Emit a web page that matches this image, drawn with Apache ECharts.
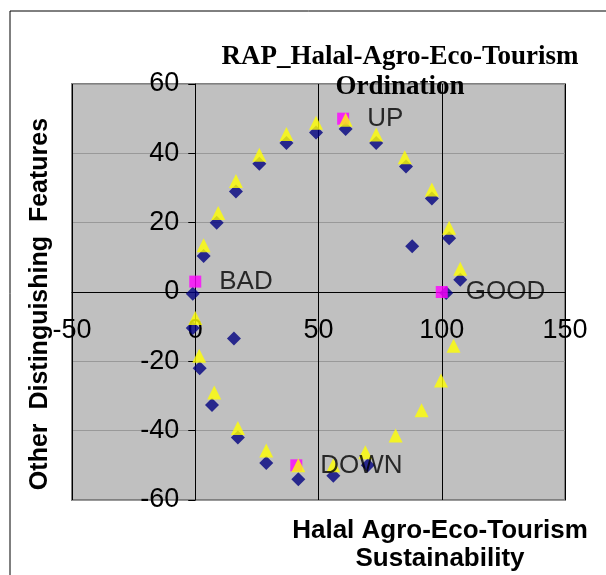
<!DOCTYPE html>
<html>
<head>
<meta charset="utf-8">
<script src="https://cdn.jsdelivr.net/npm/echarts@6/dist/echarts.min.js"></script>
<style>
  html, body { margin: 0; padding: 0; background: #fff; }
  #chart { width: 606px; height: 575px; }
</style>
</head>
<body>
<div id="chart"></div>
<script>
// attribute scores (diamonds)
const diamondX = [61, 49, 37, 26, 16.5, 8.7, 3.4, -1, -1, 15.7, 1.8, 6.8, 17.3, 28.8, 41.8, 56, 70, 73.4, 85.5, 96, 103, 107.5, 101.8, 88]
const diamondY = [47, 46, 43, 37, 29, 20, 10.4, -0.5, -10.4, -13.4, -22, -32.6, -42, -49.3, -54, -53, -50, 43, 36.2, 27, 15.5, 3.5, -0.3, 13.2]

// second set (triangles)
const triangleX = [61, 49, 37, 26, 16.5, 9.3, 3.4, 0, 1.6, 7.7, 17.3, 28.8, 41.8, 56, 69, 81.3, 91.8, 99.7, 104.8, 107.5, 103, 96, 85, 73.4]
const triangleY = [49.7, 48.8, 45.6, 39.6, 32, 22.8, 13.5, -7.5, -18.4, -29, -39.2, -45.7, -50, -50, -46.2, -41.4, -34.1, -25.5, -15.5, 6.7, 18.5, 29.6, 38.9, 45.4]

// reference anchors
const anchorNames = ['UP', 'BAD', 'GOOD', 'DOWN']
const anchorX = [60, 0, 100, 41]
const anchorY = [50, 3, 0, -50]

const xTicks = [-50, 0, 50, 100, 150]
const yTicks = [-60, -40, -20, 0, 20, 40, 60]

const sans = 'Liberation Sans, Arial, sans-serif'
const serif = 'Liberation Serif, Times New Roman, serif'

const gridLeft = 72, gridRight = 41, gridTop = 84, gridBottom = 75
const gridW = 606 - gridLeft - gridRight
const gridH = 575 - gridTop - gridBottom
// axes cross at (0, 0): shift them from the grid edges
const xMin = xTicks[0], xMax = xTicks[xTicks.length - 1]
const yMin = yTicks[0], yMax = yTicks[yTicks.length - 1]
const yAxisShift = -gridW * (0 - xMin) / (xMax - xMin)
const xAxisShift = -gridH * (0 - yMin) / (yMax - yMin)

const chart = echarts.init(document.getElementById('chart'), null, { renderer: 'canvas' })

const option = {
  animation: false,
  backgroundColor: '#ffffff',
  title: {
    text: 'RAP_Halal-Agro-Eco-Tourism\nOrdination',
    left: 395,
    top: 37,
    textAlign: 'center',
    textStyle: {
      fontFamily: serif,
      fontWeight: 'bold',
      fontSize: 27,
      lineHeight: 30,
      color: '#000'
    }
  },
  grid: {
    left: gridLeft,
    right: gridRight,
    top: gridTop,
    bottom: gridBottom,
    show: true,
    backgroundColor: '#c0c0c0',
    borderColor: '#808080',
    borderWidth: 2
  },
  xAxis: {
    type: 'value',
    min: xMin,
    max: xMax,
    interval: 50,
    offset: xAxisShift,
    axisLine: { onZero: false, lineStyle: { color: '#000', width: 1 } },
    axisTick: { show: true, length: 7, lineStyle: { color: '#000' } },
    axisLabel: { margin: 25, fontFamily: sans, fontSize: 27, color: '#000' },
    splitLine: { show: true, lineStyle: { color: '#000', width: 1 } }
  },
  yAxis: {
    type: 'value',
    min: yMin,
    max: yMax,
    interval: 20,
    offset: yAxisShift,
    axisLine: { onZero: false, lineStyle: { color: '#000', width: 1 } },
    axisTick: { show: true, length: 7, lineStyle: { color: '#000' } },
    axisLabel: { margin: 16, fontFamily: sans, fontSize: 27, color: '#000' },
    splitLine: { show: true, lineStyle: { color: '#999999', width: 1 } }
  },
  graphic: [
    {
      type: 'rect',
      shape: { x: 10, y: 11, width: 800, height: 800 },
      style: { fill: 'none', stroke: '#000', lineWidth: 1 },
      z: -1,
      silent: true
    },
    {
      type: 'text',
      x: 440,
      y: 517,
      style: {
        text: 'Halal Agro-Eco-Tourism\nSustainability',
        fontFamily: sans,
        fontWeight: 'bold',
        fontSize: 26,
        lineHeight: 28,
        fill: '#000',
        align: 'center',
        verticalAlign: 'top'
      }
    },
    {
      type: 'text',
      x: 40,
      y: 304,
      rotation: Math.PI / 2,
      style: {
        text: 'Other  Distinguishing  Features',
        fontFamily: sans,
        fontWeight: 'bold',
        fontSize: 25,
        fill: '#000',
        align: 'center',
        verticalAlign: 'middle'
      }
    }
  ],
  series: [
    {
      name: 'attributes',
      type: 'scatter',
      symbol: 'diamond',
      symbolSize: 14,
      itemStyle: { color: '#000080' },
      data: diamondX.map((x, i) => [x, diamondY[i]])
    },
    {
      name: 'anchors',
      type: 'scatter',
      symbol: 'rect',
      symbolSize: 12,
      itemStyle: { color: '#ff00ff' },
      label: {
        show: true,
        position: 'right',
        distance: 18,
        formatter: p => p.name,
        fontFamily: sans,
        fontSize: 26,
        color: '#000'
      },
      data: anchorNames.map((n, i) => ({ name: n, value: [anchorX[i], anchorY[i]] }))
    },
    {
      name: 'second',
      type: 'scatter',
      symbol: 'triangle',
      symbolSize: 14,
      itemStyle: { color: '#ffff00' },
      data: triangleX.map((x, i) => [x, triangleY[i]])
    }
  ]
}

chart.setOption(option)
</script>
</body>
</html>
